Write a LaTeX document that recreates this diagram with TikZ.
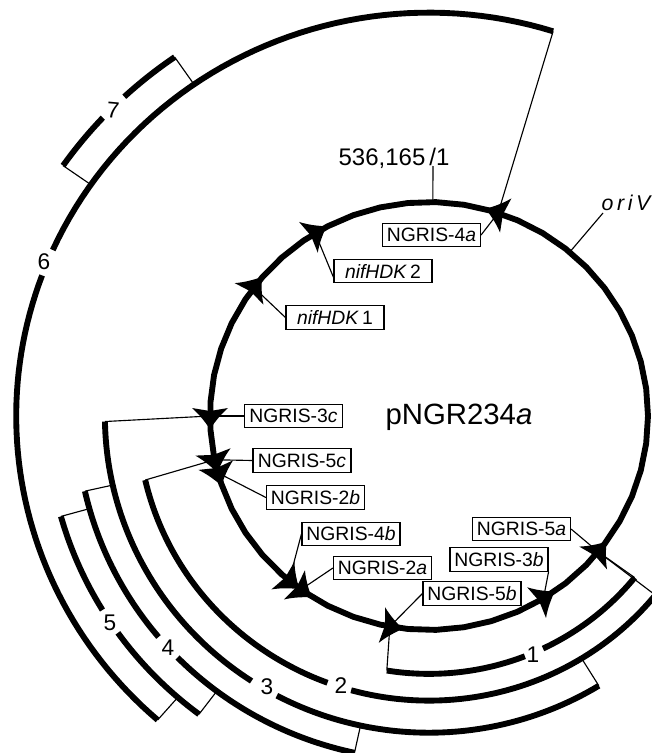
\documentclass[tikz,border=0pt]{standalone}
\usepackage{fontspec}
\setmainfont{Liberation Sans}
\newcommand\tagtext[2]{NGRIS-#1\textit{#2}}
\newcommand\thickarc[3]{\draw[heavy] plot[domain=#2:#3,samples=50] (\x:#1);}
\newcommand\insertion[3]{%
  \coordinate (#1) at (#2:1);
  \fill[shift={(#2:1)},x=.75pt,y=.75pt,rotate=#2+#3]
    (13,0) .. controls (6,5) and (-1,10) .. (-8,18) -- (-5,0) -- (-8,-18) .. controls (-1,-10) and (6,-5) .. (13,0) -- cycle;}
\tikzset{
  heavy/.style={line width=4.4pt,line cap=butt,line join=round},
  hair/.style={line width=.85pt},
  tagbox/.style={draw,line width=.85pt,fill=white,inner sep=0pt,minimum width=73.5pt,minimum height=17.5pt,font=\fontsize{14.5}{16}\selectfont},
  numeral/.style={font=\fontsize{17}{19}\selectfont,inner sep=0pt}
}
\begin{document}
\begin{tikzpicture}[x=.75pt,y=-.75pt]
\useasboundingbox (0,0) rectangle (651,753);
\fill[white] (0,0) rectangle (651,753);
\begin{scope}[shift={(429,416)},x=164.25pt,y=160.5pt]
  \coordinate (e7a) at (124.7:2.04);
  \coordinate (e7b) at (145:2.04);
  \coordinate (p7a) at (124.7:1.885);
  \coordinate (p7b) at (145:1.885);
  \coordinate (e6a) at (72.5:1.885);
  \coordinate (e6b) at (228.9:1.885);
  \coordinate (p6b) at (228.9:1.745);
  \coordinate (e5a) at (195.6:1.745);
  \coordinate (e5b) at (233:1.745);
  \coordinate (p5a) at (195.6:1.61);
  \coordinate (p5b) at (233:1.61);
  \coordinate (e4a) at (192.6:1.61);
  \coordinate (e4b) at (257.8:1.61);
  \coordinate (p4a) at (192.6:1.48);
  \coordinate (p4b) at (257.8:1.48);
  \coordinate (e3a) at (181:1.48);
  \coordinate (e3b) at (301.6:1.48);
  \coordinate (p3b) at (301.6:1.33);
  \coordinate (e2a) at (193:1.33);
  \coordinate (e2b) at (321:1.33);
  \coordinate (e1a) at (260.8:1.205);
  \coordinate (e1b) at (321.2:1.205);
  \coordinate (top) at (89:1);
  \coordinate (ori) at (50:1);

  \thickarc{1}{0}{360}
  \thickarc{2.04}{124.7}{133}
  \thickarc{2.04}{136.9}{145}
  \thickarc{1.885}{72.5}{155.7}
  \thickarc{1.885}{159.6}{228.9}
  \thickarc{1.745}{195.6}{211.3}
  \thickarc{1.745}{215.5}{233}
  \thickarc{1.61}{192.6}{219.9}
  \thickarc{1.61}{224.5}{257.8}
  \thickarc{1.48}{181}{236.8}
  \thickarc{1.48}{242}{301.6}
  \thickarc{1.33}{193}{249.6}
  \thickarc{1.33}{254.5}{321}
  \thickarc{1.205}{260.8}{291.3}
  \thickarc{1.205}{295.6}{321.2}

  \insertion{s4a}{71.6}{90}
  \insertion{snb}{121.3}{-90}
  \insertion{sna}{143.1}{-90}
  \insertion{s3c}{180}{90}
  \insertion{s5c}{191.8}{90}
  \insertion{s2b}{195.4}{90}
  \insertion{s4b}{230.3}{90}
  \insertion{s2a}{234.2}{90}
  \insertion{s5b}{259.7}{90}
  \insertion{s3b}{301.5}{90}
  \insertion{s5a}{320.6}{90}
\end{scope}

\node[tagbox] (b4a) at (431.5,235) {\tagtext{4}{a}};
\node[tagbox] (bnb) at (383,271) {\textit{nifHDK}\,2};
\node[tagbox] (bna) at (335,317.5) {\textit{nifHDK}\,1};
\node[tagbox] (b3c) at (293.5,416) {\tagtext{3}{c}};
\node[tagbox] (b5c) at (302,460.5) {\tagtext{5}{c}};
\node[tagbox] (b2b) at (315.5,497.5) {\tagtext{2}{b}};
\node[tagbox] (b4b) at (351,534) {\tagtext{4}{b}};
\node[tagbox] (b2a) at (382.5,568) {\tagtext{2}{a}};
\node[tagbox] (b5a) at (521.5,529) {\tagtext{5}{a}};
\node[tagbox] (b3b) at (499,559.5) {\tagtext{3}{b}};
\node[tagbox] (b5b) at (472,593.5) {\tagtext{5}{b}};

\draw[hair] (b4a.east) -- (s4a);
\draw[hair] (bnb.south west) ++(0,-6) -- (snb);
\draw[hair] (bna.west) -- (sna);
\draw[hair] (b3c.west) -- (s3c);
\draw[hair] (b5c.west) -- (s5c);
\draw[hair] (b2b.west) -- (s2b);
\draw[hair] (b4b.west) -- (s4b);
\draw[hair] (b2a.west) -- (s2a);
\draw[hair] (b5a.east) -- (s5a);
\draw[hair] (b3b.south east) -- (s3b);
\draw[hair] (b5b.west) -- (s5b);

\draw[hair] (s4a) -- (e6a);
\draw[hair] (e7a) -- (p7a);
\draw[hair] (e7b) -- (p7b);
\draw[hair] (e6b) -- (p6b);
\draw[hair] (e5a) -- (p5a);
\draw[hair] (e5b) -- (p5b);
\draw[hair] (e4a) -- (p4a);
\draw[hair] (e4b) -- (p4b);
\draw[hair] (e3a) -- (s3c);
\draw[hair] (e3b) -- (p3b);
\draw[hair] (e2a) -- (s5c);
\draw[hair] (e2b) -- (s5a);
\draw[hair] (e1a) -- (s5b);
\draw[hair] (e1b) -- (s5a);

\coordinate (ticktop) at (433,166);
\draw[hair] (top) -- (ticktop);
\node[font=\fontsize{18}{20}\selectfont,inner sep=0pt,anchor=base] (coord) at (394,165) {536,165\,/1};
\coordinate (orifoot) at (603,213);
\draw[hair] (ori) -- (orifoot);
\node[font=\fontsize{16}{18}\selectfont\itshape,inner sep=0pt] (oriname) at (626,203) {o\,r\,i\,V};
\node[font=\fontsize{22}{24}\selectfont,inner sep=0pt] (plasmid) at (459,417) {pNGR234\textit{a}};

\node[numeral] (n1) at (533,655) {1};
\node[numeral] (n2) at (341,686) {2};
\node[numeral] (n3) at (267,687) {3};
\node[numeral] (n4) at (168,648) {4};
\node[numeral] (n5) at (110,623) {5};
\node[numeral] (n6) at (44,262) {6};
\node[numeral,rotate=-5] (n7) at (113,110) {7};
\end{tikzpicture}
\end{document}
